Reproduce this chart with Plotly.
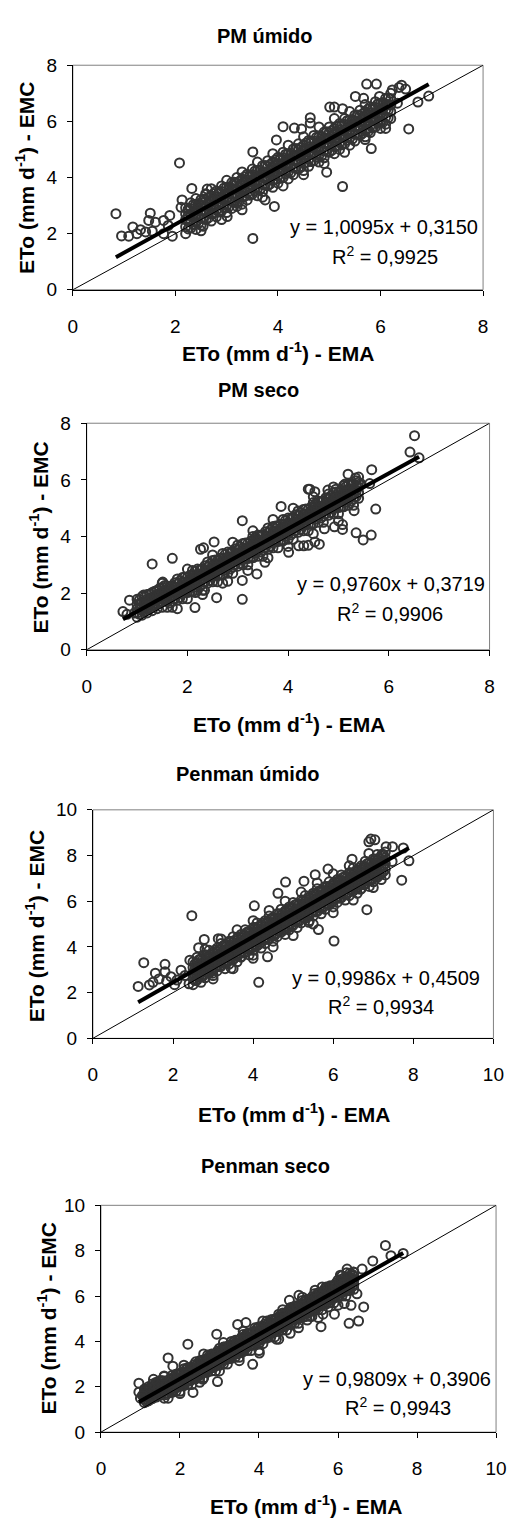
import plotly.graph_objects as go

W, H = 518, 1526
FONT = "Liberation Sans, Arial, sans-serif"

# ---------------- data ----------------
TITLES = ["PM úmido", "PM seco", "Penman úmido", "Penman seco"]
AXIS_MAX = [8, 8, 10, 10]
TICKS = [[0, 2, 4, 6, 8], [0, 2, 4, 6, 8], [0, 2, 4, 6, 8, 10], [0, 2, 4, 6, 8, 10]]
SLOPES = [1.0095, 0.9760, 0.9986, 0.9809]
INTERCEPTS = [0.3150, 0.3719, 0.4509, 0.3906]
R2 = [0.9925, 0.9906, 0.9934, 0.9943]

# Panel 1 - PM úmido : dense columns (EMA value, EMC values) + scattered points
PMU_COL_EMA = [2.2, 2.3, 2.4, 2.5, 2.6, 2.7, 2.8, 2.9, 3.0, 3.1, 3.2, 3.3, 3.4, 3.5, 3.6, 3.7, 3.8, 3.9, 4.0,
               4.1, 4.2, 4.3, 4.4, 4.5, 4.6, 4.7, 4.8, 4.9, 5.0, 5.1, 5.2, 5.3, 5.4, 5.5, 5.6, 5.7, 5.8,
               5.9, 6.0, 6.1, 6.2]
PMU_COL_EMC = [
    [2.00, 2.25, 2.50, 2.70, 2.92], [2.20, 2.45, 2.68, 2.90, 3.10], [2.15, 2.40, 2.62, 2.85, 3.05],
    [2.30, 2.55, 2.80, 3.00, 3.22], [2.50, 2.75, 2.98, 3.20, 3.40], [2.45, 2.70, 2.92, 3.15, 3.35],
    [2.60, 2.85, 3.10, 3.30, 3.52], [2.80, 3.05, 3.28, 3.50, 3.70], [2.75, 3.00, 3.22, 3.45, 3.65],
    [2.90, 3.15, 3.40, 3.60, 3.82], [3.10, 3.35, 3.58, 3.80, 4.00], [3.05, 3.30, 3.52, 3.75, 3.95],
    [3.20, 3.45, 3.70, 3.90, 4.12], [3.40, 3.65, 3.88, 4.10, 4.30], [3.35, 3.60, 3.82, 4.05, 4.25],
    [3.50, 3.75, 4.00, 4.20, 4.42], [3.70, 3.95, 4.18, 4.40, 4.60], [3.65, 3.90, 4.12, 4.35, 4.55],
    [3.80, 4.05, 4.30, 4.50, 4.72], [4.00, 4.25, 4.48, 4.70, 4.90], [3.95, 4.20, 4.42, 4.65, 4.85],
    [4.10, 4.35, 4.60, 4.80, 5.02], [4.30, 4.55, 4.78, 5.00, 5.20], [4.25, 4.50, 4.72, 4.95, 5.15],
    [4.40, 4.65, 4.90, 5.10, 5.32], [4.60, 4.85, 5.08, 5.30, 5.50], [4.55, 4.80, 5.02, 5.25, 5.45],
    [4.70, 4.95, 5.20, 5.40, 5.62], [4.90, 5.15, 5.38, 5.60, 5.80], [4.85, 5.10, 5.32, 5.55, 5.75],
    [5.00, 5.25, 5.50, 5.70, 5.92], [5.20, 5.45, 5.68, 5.90, 6.10], [5.15, 5.40, 5.62, 5.85, 6.05],
    [5.30, 5.55, 5.80, 6.00, 6.22], [5.50, 5.75, 5.98, 6.20, 6.40], [5.45, 5.70, 5.92, 6.15, 6.35],
    [5.60, 5.85, 6.10, 6.30, 6.52], [5.80, 6.05, 6.28, 6.50, 6.70], [5.75, 6.00, 6.22, 6.45, 6.65],
    [5.90, 6.15, 6.40, 6.60, 6.82], [6.10, 6.35, 6.58, 6.80, 7.00]]
PMU_MID_EMA = [2.25, 2.35, 2.45, 2.55, 2.65, 2.75, 2.85, 2.95, 3.05, 3.15, 3.25, 3.35, 3.45, 3.55, 3.65,
               3.75, 3.85, 3.95, 4.05, 4.15, 4.25, 4.35, 4.45, 4.55, 4.65, 4.75, 4.85, 4.95, 5.05, 5.15,
               5.25, 5.35, 5.45, 5.55, 5.65, 5.75, 5.85, 5.95, 6.05, 6.15]
PMU_MID_EMC = [
    [2.17, 2.43, 2.65, 2.87], [2.33, 2.60, 2.80, 3.03], [2.37, 2.63, 2.85, 3.07], [2.53, 2.80, 3.00, 3.23],
    [2.57, 2.83, 3.05, 3.27], [2.73, 3.00, 3.20, 3.43], [2.77, 3.03, 3.25, 3.47], [2.93, 3.20, 3.40, 3.63],
    [2.97, 3.23, 3.45, 3.67], [3.13, 3.40, 3.60, 3.83], [3.17, 3.43, 3.65, 3.87], [3.33, 3.60, 3.80, 4.03],
    [3.37, 3.63, 3.85, 4.07], [3.53, 3.80, 4.00, 4.23], [3.57, 3.83, 4.05, 4.27], [3.73, 4.00, 4.20, 4.43],
    [3.77, 4.03, 4.25, 4.47], [3.93, 4.20, 4.40, 4.63], [3.97, 4.23, 4.45, 4.67], [4.13, 4.40, 4.60, 4.83],
    [4.17, 4.43, 4.65, 4.87], [4.33, 4.60, 4.80, 5.03], [4.37, 4.63, 4.85, 5.07], [4.53, 4.80, 5.00, 5.23],
    [4.57, 4.83, 5.05, 5.27], [4.73, 5.00, 5.20, 5.43], [4.77, 5.03, 5.25, 5.47], [4.93, 5.20, 5.40, 5.63],
    [4.97, 5.23, 5.45, 5.67], [5.13, 5.40, 5.60, 5.83], [5.17, 5.43, 5.65, 5.87], [5.33, 5.60, 5.80, 6.03],
    [5.37, 5.63, 5.85, 6.07], [5.53, 5.80, 6.00, 6.23], [5.57, 5.83, 6.05, 6.27], [5.73, 6.00, 6.20, 6.43],
    [5.77, 6.03, 6.25, 6.47], [5.93, 6.20, 6.40, 6.63], [5.97, 6.23, 6.45, 6.67], [6.13, 6.40, 6.60, 6.83]]
PMU_OUT_EMA = [0.84, 0.95, 1.09, 1.17, 1.25, 1.32, 1.42, 1.51, 1.48, 1.61, 1.55, 1.77, 1.77, 1.89, 1.94,
               1.86, 2.08, 2.32, 2.13, 2.11, 2.54, 2.62, 2.59, 3.01, 3.20, 3.51, 3.51, 3.97, 4.10, 3.93,
               3.75, 4.63, 4.46, 4.95, 5.26, 5.82, 6.55, 6.73, 6.94, 5.73, 5.92, 6.36, 6.41, 6.49, 6.23,
               6.33, 5.98, 5.51, 5.67, 5.99, 5.01, 5.10, 5.26, 4.63, 4.32, 5.76]
PMU_OUT_EMC = [2.71, 1.92, 1.91, 2.24, 2.00, 2.14, 2.06, 2.73, 2.47, 2.41, 2.09, 2.47, 2.00, 2.65, 1.91,
               2.29, 4.52, 3.61, 3.20, 2.94, 2.26, 3.59, 3.42, 2.61, 2.97, 1.83, 4.91, 5.34, 5.81, 2.97,
               3.20, 6.13, 5.73, 4.19, 3.68, 5.03, 5.73, 6.69, 6.90, 7.33, 7.33, 7.21, 7.29, 7.15, 7.12,
               6.65, 6.89, 6.89, 6.82, 5.95, 6.51, 6.51, 6.45, 5.94, 5.76, 5.64]
PMU_EDGE_EMA = [2.4, 2.7, 3.0, 3.3, 3.6, 3.9, 4.2, 4.5, 4.8, 5.1, 5.4, 5.7, 2.5, 2.9, 3.3, 3.7, 4.1, 4.5,
                4.9, 5.3, 5.7, 6.1]
PMU_EDGE_EMC = [3.25, 3.60, 3.90, 4.20, 4.55, 4.85, 5.15, 5.45, 5.80, 6.10, 6.35, 6.60, 2.10, 2.50, 2.85,
                3.30, 3.70, 4.10, 4.50, 4.90, 5.35, 5.75]

# Panel 2 - PM seco
PMS_COL_EMA = [1.0, 1.1, 1.2, 1.3, 1.4, 1.5, 1.6, 1.7, 1.8, 1.9, 2.0, 2.1, 2.2, 2.3, 2.4, 2.5, 2.6, 2.7, 2.8,
               2.9, 3.0, 3.1, 3.2, 3.3, 3.4, 3.5, 3.6, 3.7, 3.8, 3.9, 4.0, 4.1, 4.2, 4.3, 4.4, 4.5, 4.6,
               4.7, 4.8, 4.9, 5.0, 5.1, 5.2, 5.3, 5.4]
PMS_COL_EMC = [
    [1.15, 1.30, 1.45, 1.60, 1.78], [1.22, 1.38, 1.52, 1.68, 1.88], [1.30, 1.45, 1.62, 1.78, 1.95],
    [1.38, 1.55, 1.70, 1.86, 2.02], [1.45, 1.62, 1.80, 1.95, 2.10], [1.50, 1.70, 1.88, 2.02, 2.20],
    [1.50, 1.70, 1.90, 2.08, 2.25], [1.50, 1.72, 1.90, 2.08, 2.26], [1.75, 1.95, 2.15, 2.32, 2.50],
    [1.80, 2.00, 2.20, 2.38, 2.55], [1.80, 2.02, 2.20, 2.38, 2.56], [2.05, 2.25, 2.45, 2.62, 2.80],
    [2.10, 2.30, 2.50, 2.68, 2.85], [2.10, 2.32, 2.50, 2.68, 2.86], [2.35, 2.55, 2.75, 2.92, 3.10],
    [2.40, 2.60, 2.80, 2.98, 3.15], [2.40, 2.62, 2.80, 2.98, 3.16], [2.65, 2.85, 3.05, 3.22, 3.40],
    [2.70, 2.90, 3.10, 3.28, 3.45], [2.70, 2.92, 3.10, 3.28, 3.46], [2.95, 3.15, 3.35, 3.52, 3.70],
    [3.00, 3.20, 3.40, 3.58, 3.75], [3.00, 3.22, 3.40, 3.58, 3.76], [3.25, 3.45, 3.65, 3.82, 4.00],
    [3.30, 3.50, 3.70, 3.88, 4.05], [3.30, 3.52, 3.70, 3.88, 4.06], [3.55, 3.75, 3.95, 4.12, 4.30],
    [3.60, 3.80, 4.00, 4.18, 4.35], [3.60, 3.82, 4.00, 4.18, 4.36], [3.85, 4.05, 4.25, 4.42, 4.60],
    [3.90, 4.10, 4.30, 4.48, 4.65], [3.90, 4.12, 4.30, 4.48, 4.66], [4.15, 4.35, 4.55, 4.72, 4.90],
    [4.20, 4.40, 4.60, 4.78, 4.95], [4.20, 4.42, 4.60, 4.78, 4.96], [4.45, 4.65, 4.85, 5.02, 5.20],
    [4.50, 4.70, 4.90, 5.08, 5.25], [4.50, 4.72, 4.90, 5.08, 5.26], [4.75, 4.95, 5.15, 5.32, 5.50],
    [4.80, 5.00, 5.20, 5.38, 5.55], [4.80, 5.02, 5.20, 5.38, 5.56], [5.05, 5.25, 5.45, 5.62, 5.80],
    [5.10, 5.30, 5.50, 5.68, 5.85], [5.10, 5.32, 5.50, 5.68, 5.86], [5.35, 5.55, 5.75, 5.92, 6.10]]
PMS_MID_EMA = [1.05, 1.15, 1.25, 1.35, 1.45, 1.55, 1.65, 1.75, 1.85, 1.95, 2.05, 2.15, 2.25, 2.35, 2.45,
               2.55, 2.65, 2.75, 2.85, 2.95, 3.05, 3.15, 3.25, 3.35, 3.45, 3.55, 3.65, 3.75, 3.85, 3.95,
               4.05, 4.15, 4.25, 4.35, 4.45, 4.55, 4.65, 4.75, 4.85, 4.95, 5.05, 5.15, 5.25, 5.35]
PMS_MID_EMC = [
    [1.25, 1.43, 1.60, 1.77], [1.35, 1.53, 1.70, 1.87], [1.45, 1.63, 1.80, 1.97], [1.55, 1.73, 1.90, 2.07],
    [1.65, 1.83, 2.00, 2.17], [1.75, 1.93, 2.10, 2.27], [1.65, 1.85, 2.05, 2.23], [1.81, 2.00, 2.19, 2.37],
    [1.85, 2.05, 2.25, 2.43], [2.01, 2.20, 2.39, 2.57], [2.05, 2.25, 2.45, 2.63], [2.21, 2.40, 2.59, 2.77],
    [2.25, 2.45, 2.65, 2.83], [2.41, 2.60, 2.79, 2.97], [2.45, 2.65, 2.85, 3.03], [2.61, 2.80, 2.99, 3.17],
    [2.65, 2.85, 3.05, 3.23], [2.81, 3.00, 3.19, 3.37], [2.85, 3.05, 3.25, 3.43], [3.01, 3.20, 3.39, 3.57],
    [3.05, 3.25, 3.45, 3.63], [3.21, 3.40, 3.59, 3.77], [3.25, 3.45, 3.65, 3.83], [3.41, 3.60, 3.79, 3.97],
    [3.45, 3.65, 3.85, 4.03], [3.61, 3.80, 3.99, 4.17], [3.65, 3.85, 4.05, 4.23], [3.81, 4.00, 4.19, 4.37],
    [3.85, 4.05, 4.25, 4.43], [4.01, 4.20, 4.39, 4.57], [4.05, 4.25, 4.45, 4.63], [4.21, 4.40, 4.59, 4.77],
    [4.25, 4.45, 4.65, 4.83], [4.41, 4.60, 4.79, 4.97], [4.45, 4.65, 4.85, 5.03], [4.61, 4.80, 4.99, 5.17],
    [4.65, 4.85, 5.05, 5.23], [4.81, 5.00, 5.19, 5.37], [4.85, 5.05, 5.25, 5.43], [5.01, 5.20, 5.39, 5.57],
    [5.05, 5.25, 5.45, 5.63], [5.21, 5.40, 5.59, 5.77], [5.25, 5.45, 5.65, 5.83], [5.41, 5.60, 5.79, 5.97]]
PMS_OUT_EMA = [0.72, 0.85, 1.13, 1.30, 1.51, 1.70, 2.15, 2.58, 3.09, 3.09, 2.53, 2.26, 2.32, 2.16, 2.34,
               2.80, 3.09, 3.38, 3.54, 3.86, 4.01, 4.40, 4.53, 4.21, 4.31, 4.40, 4.53, 4.62, 4.72, 4.92,
               5.08, 5.08, 5.35, 5.49, 5.65, 5.31, 5.74, 5.66, 5.19, 5.34, 5.44, 4.43, 4.79, 4.95, 5.13,
               6.51, 6.42, 6.60, 5.62, 0.80, 0.95]
PMS_OUT_EMC = [1.35, 1.75, 1.93, 3.03, 2.39, 3.23, 1.49, 1.84, 1.78, 4.56, 3.81, 3.55, 3.60, 2.02, 2.10,
               2.42, 2.45, 2.68, 3.09, 5.06, 3.44, 5.67, 5.58, 3.67, 3.67, 3.69, 3.81, 3.73, 4.27, 4.34,
               4.25, 4.42, 4.13, 3.88, 4.05, 4.91, 4.97, 6.36, 6.20, 6.07, 5.87, 5.67, 5.64, 5.67, 5.85,
               7.56, 6.98, 6.78, 5.87, 1.25, 1.30]
PMS_EDGE_EMA = [1.5, 2.0, 2.5, 2.9, 3.3, 3.7, 4.1, 4.5, 4.9, 1.8, 2.3, 2.7, 3.2, 3.6, 4.0, 4.5, 5.0]
PMS_EDGE_EMC = [2.35, 2.85, 3.35, 3.80, 4.20, 4.60, 5.00, 5.40, 5.75, 1.45, 1.95, 2.35, 2.80, 3.25, 3.65,
                4.10, 4.55]

# Panel 3 - Penman úmido
PEU_COL_EMA = [2.5, 2.6, 2.7, 2.8, 2.9, 3.0, 3.1, 3.2, 3.3, 3.4, 3.5, 3.6, 3.7, 3.8, 3.9, 4.0, 4.1, 4.2, 4.3,
               4.4, 4.5, 4.6, 4.7, 4.8, 4.9, 5.0, 5.1, 5.2, 5.3, 5.4, 5.5, 5.6, 5.7, 5.8, 5.9, 6.0, 6.1,
               6.2, 6.3, 6.4, 6.5, 6.6, 6.7, 6.8, 6.9, 7.0, 7.1, 7.2, 7.3]
PEU_COL_EMC = [
    [2.35, 2.60, 2.85, 3.10, 3.35], [2.55, 2.80, 3.05, 3.30, 3.55], [2.45, 2.70, 2.98, 3.22, 3.48],
    [2.65, 2.90, 3.15, 3.40, 3.65], [2.85, 3.10, 3.35, 3.60, 3.85], [2.75, 3.00, 3.28, 3.52, 3.78],
    [2.95, 3.20, 3.45, 3.70, 3.95], [3.15, 3.40, 3.65, 3.90, 4.15], [3.05, 3.30, 3.58, 3.82, 4.08],
    [3.25, 3.50, 3.75, 4.00, 4.25], [3.45, 3.70, 3.95, 4.20, 4.45], [3.35, 3.60, 3.88, 4.12, 4.38],
    [3.55, 3.80, 4.05, 4.30, 4.55], [3.75, 4.00, 4.25, 4.50, 4.75], [3.65, 3.90, 4.18, 4.42, 4.68],
    [3.85, 4.10, 4.35, 4.60, 4.85], [4.05, 4.30, 4.55, 4.80, 5.05], [3.95, 4.20, 4.48, 4.72, 4.98],
    [4.15, 4.40, 4.65, 4.90, 5.15], [4.35, 4.60, 4.85, 5.10, 5.35], [4.25, 4.50, 4.78, 5.02, 5.28],
    [4.45, 4.70, 4.95, 5.20, 5.45], [4.65, 4.90, 5.15, 5.40, 5.65], [4.55, 4.80, 5.08, 5.32, 5.58],
    [4.75, 5.00, 5.25, 5.50, 5.75], [4.95, 5.20, 5.45, 5.70, 5.95], [4.85, 5.10, 5.38, 5.62, 5.88],
    [5.05, 5.30, 5.55, 5.80, 6.05], [5.25, 5.50, 5.75, 6.00, 6.25], [5.15, 5.40, 5.68, 5.92, 6.18],
    [5.35, 5.60, 5.85, 6.10, 6.35], [5.55, 5.80, 6.05, 6.30, 6.55], [5.45, 5.70, 5.98, 6.22, 6.48],
    [5.65, 5.90, 6.15, 6.40, 6.65], [5.85, 6.10, 6.35, 6.60, 6.85], [5.75, 6.00, 6.28, 6.52, 6.78],
    [5.95, 6.20, 6.45, 6.70, 6.95], [6.15, 6.40, 6.65, 6.90, 7.15], [6.05, 6.30, 6.58, 6.82, 7.08],
    [6.25, 6.50, 6.75, 7.00, 7.25], [6.45, 6.70, 6.95, 7.20, 7.45], [6.35, 6.60, 6.88, 7.12, 7.38],
    [6.55, 6.80, 7.05, 7.30, 7.55], [6.75, 7.00, 7.25, 7.50, 7.75], [6.65, 6.90, 7.18, 7.42, 7.68],
    [6.85, 7.10, 7.35, 7.60, 7.85], [7.05, 7.30, 7.55, 7.80, 8.05], [6.95, 7.20, 7.48, 7.72, 7.98],
    [7.15, 7.40, 7.65, 7.90, 8.15]]
PEU_MID_EMA = [2.55, 2.65, 2.75, 2.85, 2.95, 3.05, 3.15, 3.25, 3.35, 3.45, 3.55, 3.65, 3.75, 3.85, 3.95,
               4.05, 4.15, 4.25, 4.35, 4.45, 4.55, 4.65, 4.75, 4.85, 4.95, 5.05, 5.15, 5.25, 5.35, 5.45,
               5.55, 5.65, 5.75, 5.85, 5.95, 6.05, 6.15, 6.25, 6.35, 6.45, 6.55, 6.65, 6.75, 6.85, 6.95,
               7.05, 7.15, 7.25]
PEU_MID_EMC = [
    [2.53, 2.77, 3.03, 3.27], [2.70, 2.95, 3.20, 3.45], [2.73, 2.97, 3.23, 3.47], [2.90, 3.15, 3.40, 3.65],
    [2.93, 3.17, 3.43, 3.67], [3.10, 3.35, 3.60, 3.85], [3.13, 3.37, 3.63, 3.87], [3.30, 3.55, 3.80, 4.05],
    [3.33, 3.57, 3.83, 4.07], [3.50, 3.75, 4.00, 4.25], [3.53, 3.77, 4.03, 4.27], [3.70, 3.95, 4.20, 4.45],
    [3.73, 3.97, 4.23, 4.47], [3.90, 4.15, 4.40, 4.65], [3.93, 4.17, 4.43, 4.67], [4.10, 4.35, 4.60, 4.85],
    [4.13, 4.37, 4.63, 4.87], [4.30, 4.55, 4.80, 5.05], [4.33, 4.57, 4.83, 5.07], [4.50, 4.75, 5.00, 5.25],
    [4.53, 4.77, 5.03, 5.27], [4.70, 4.95, 5.20, 5.45], [4.73, 4.97, 5.23, 5.47], [4.90, 5.15, 5.40, 5.65],
    [4.93, 5.17, 5.43, 5.67], [5.10, 5.35, 5.60, 5.85], [5.13, 5.37, 5.63, 5.87], [5.30, 5.55, 5.80, 6.05],
    [5.33, 5.57, 5.83, 6.07], [5.50, 5.75, 6.00, 6.25], [5.53, 5.77, 6.03, 6.27], [5.70, 5.95, 6.20, 6.45],
    [5.73, 5.97, 6.23, 6.47], [5.90, 6.15, 6.40, 6.65], [5.93, 6.17, 6.43, 6.67], [6.10, 6.35, 6.60, 6.85],
    [6.13, 6.37, 6.63, 6.87], [6.30, 6.55, 6.80, 7.05], [6.33, 6.57, 6.83, 7.07], [6.50, 6.75, 7.00, 7.25],
    [6.53, 6.77, 7.03, 7.27], [6.70, 6.95, 7.20, 7.45], [6.73, 6.97, 7.23, 7.47], [6.90, 7.15, 7.40, 7.65],
    [6.93, 7.17, 7.43, 7.67], [7.10, 7.35, 7.60, 7.85], [7.13, 7.37, 7.63, 7.87], [7.30, 7.55, 7.80, 8.05]]
PEU_OUT_EMA = [1.13, 1.27, 1.41, 1.56, 1.80, 1.80, 1.84, 2.04, 2.20, 2.42, 2.47, 2.64, 2.78, 2.40, 3.13,
               4.14, 4.03, 4.36, 4.00, 4.81, 4.62, 5.63, 6.02, 6.84, 7.71, 7.89, 6.94, 6.89, 7.04, 7.32,
               7.48, 7.75, 7.47, 7.22, 6.89, 6.47, 5.87, 5.55, 5.83, 5.39, 6.68, 5.27, 3.69, 3.45, 2.99,
               1.50, 1.65, 1.95, 2.10, 2.30]
PEU_OUT_EMC = [2.27, 3.31, 2.34, 2.85, 3.24, 2.92, 2.50, 2.35, 2.98, 3.42, 5.37, 3.97, 4.33, 2.39, 4.36,
               2.45, 5.80, 3.57, 3.64, 6.84, 6.35, 4.76, 4.26, 5.63, 6.92, 7.77, 8.72, 8.60, 8.69, 8.39,
               8.39, 8.33, 7.74, 8.06, 8.09, 7.84, 7.41, 7.16, 5.87, 5.08, 6.52, 6.88, 3.57, 3.07, 2.85,
               2.45, 2.60, 2.70, 2.55, 2.75]
PEU_EDGE_EMA = [2.8, 3.2, 3.6, 4.0, 4.4, 4.8, 5.2, 5.6, 6.0, 6.4, 3.0, 3.5, 4.0, 4.5, 5.0, 5.5, 6.0, 6.5,
                7.0]
PEU_EDGE_EMC = [3.90, 4.35, 4.75, 5.15, 5.60, 6.00, 6.40, 6.80, 7.20, 7.55, 2.60, 3.05, 3.50, 4.00, 4.50,
                5.00, 5.50, 6.05, 6.60]

# Panel 4 - Penman seco
PES_COL_EMA = [1.1, 1.2, 1.3, 1.4, 1.5, 1.6, 1.7, 1.8, 1.9, 2.0, 2.1, 2.2, 2.3, 2.4, 2.5, 2.6, 2.7, 2.8, 2.9,
               3.0, 3.1, 3.2, 3.3, 3.4, 3.5, 3.6, 3.7, 3.8, 3.9, 4.0, 4.1, 4.2, 4.3, 4.4, 4.5, 4.6, 4.7,
               4.8, 4.9, 5.0, 5.1, 5.2, 5.3, 5.4, 5.5, 5.6, 5.7, 5.8, 5.9, 6.0, 6.1, 6.2, 6.3, 6.4]
PES_COL_EMC = [
    [1.30, 1.45, 1.60, 1.75, 1.90], [1.38, 1.55, 1.70, 1.85, 2.00], [1.48, 1.62, 1.78, 1.95, 2.12],
    [1.55, 1.72, 1.88, 2.02, 2.20], [1.62, 1.80, 1.95, 2.12, 2.28], [1.50, 1.70, 1.90, 2.08, 2.25],
    [1.50, 1.72, 1.90, 2.08, 2.26], [1.75, 1.95, 2.15, 2.32, 2.50], [1.80, 2.00, 2.20, 2.38, 2.55],
    [1.80, 2.02, 2.20, 2.38, 2.56], [2.05, 2.25, 2.45, 2.62, 2.80], [2.10, 2.30, 2.50, 2.68, 2.85],
    [2.10, 2.32, 2.50, 2.68, 2.86], [2.35, 2.55, 2.75, 2.92, 3.10], [2.40, 2.60, 2.80, 2.98, 3.15],
    [2.40, 2.62, 2.80, 2.98, 3.16], [2.65, 2.85, 3.05, 3.22, 3.40], [2.70, 2.90, 3.10, 3.28, 3.45],
    [2.70, 2.92, 3.10, 3.28, 3.46], [2.95, 3.15, 3.35, 3.52, 3.70], [3.00, 3.20, 3.40, 3.58, 3.75],
    [3.00, 3.22, 3.40, 3.58, 3.76], [3.25, 3.45, 3.65, 3.82, 4.00], [3.30, 3.50, 3.70, 3.88, 4.05],
    [3.30, 3.52, 3.70, 3.88, 4.06], [3.55, 3.75, 3.95, 4.12, 4.30], [3.60, 3.80, 4.00, 4.18, 4.35],
    [3.60, 3.82, 4.00, 4.18, 4.36], [3.85, 4.05, 4.25, 4.42, 4.60], [3.90, 4.10, 4.30, 4.48, 4.65],
    [3.90, 4.12, 4.30, 4.48, 4.66], [4.15, 4.35, 4.55, 4.72, 4.90], [4.20, 4.40, 4.60, 4.78, 4.95],
    [4.20, 4.42, 4.60, 4.78, 4.96], [4.45, 4.65, 4.85, 5.02, 5.20], [4.50, 4.70, 4.90, 5.08, 5.25],
    [4.50, 4.72, 4.90, 5.08, 5.26], [4.75, 4.95, 5.15, 5.32, 5.50], [4.80, 5.00, 5.20, 5.38, 5.55],
    [4.80, 5.02, 5.20, 5.38, 5.56], [5.05, 5.25, 5.45, 5.62, 5.80], [5.10, 5.30, 5.50, 5.68, 5.85],
    [5.10, 5.32, 5.50, 5.68, 5.86], [5.35, 5.55, 5.75, 5.92, 6.10], [5.40, 5.60, 5.80, 5.98, 6.15],
    [5.40, 5.62, 5.80, 5.98, 6.16], [5.65, 5.85, 6.05, 6.22, 6.40], [5.70, 5.90, 6.10, 6.28, 6.45],
    [5.70, 5.92, 6.10, 6.28, 6.46], [5.95, 6.15, 6.35, 6.52, 6.70], [6.00, 6.20, 6.40, 6.58, 6.75],
    [6.00, 6.22, 6.40, 6.58, 6.76], [6.25, 6.45, 6.65, 6.82, 7.00], [6.30, 6.50, 6.70, 6.88, 7.05]]
PES_MID_EMA = [1.15, 1.25, 1.35, 1.45, 1.55, 1.65, 1.75, 1.85, 1.95, 2.05, 2.15, 2.25, 2.35, 2.45, 2.55,
               2.65, 2.75, 2.85, 2.95, 3.05, 3.15, 3.25, 3.35, 3.45, 3.55, 3.65, 3.75, 3.85, 3.95, 4.05,
               4.15, 4.25, 4.35, 4.45, 4.55, 4.65, 4.75, 4.85, 4.95, 5.05, 5.15, 5.25, 5.35, 5.45, 5.55,
               5.65, 5.75, 5.85, 5.95, 6.05, 6.15, 6.25, 6.35]
PES_MID_EMC = [
    [1.35, 1.53, 1.70, 1.87], [1.45, 1.63, 1.80, 1.97], [1.55, 1.73, 1.90, 2.07], [1.65, 1.83, 2.00, 2.17],
    [1.75, 1.93, 2.10, 2.27], [1.65, 1.85, 2.05, 2.23], [1.81, 2.00, 2.19, 2.37], [1.85, 2.05, 2.25, 2.43],
    [2.01, 2.20, 2.39, 2.57], [2.05, 2.25, 2.45, 2.63], [2.21, 2.40, 2.59, 2.77], [2.25, 2.45, 2.65, 2.83],
    [2.41, 2.60, 2.79, 2.97], [2.45, 2.65, 2.85, 3.03], [2.61, 2.80, 2.99, 3.17], [2.65, 2.85, 3.05, 3.23],
    [2.81, 3.00, 3.19, 3.37], [2.85, 3.05, 3.25, 3.43], [3.01, 3.20, 3.39, 3.57], [3.05, 3.25, 3.45, 3.63],
    [3.21, 3.40, 3.59, 3.77], [3.25, 3.45, 3.65, 3.83], [3.41, 3.60, 3.79, 3.97], [3.45, 3.65, 3.85, 4.03],
    [3.61, 3.80, 3.99, 4.17], [3.65, 3.85, 4.05, 4.23], [3.81, 4.00, 4.19, 4.37], [3.85, 4.05, 4.25, 4.43],
    [4.01, 4.20, 4.39, 4.57], [4.05, 4.25, 4.45, 4.63], [4.21, 4.40, 4.59, 4.77], [4.25, 4.45, 4.65, 4.83],
    [4.41, 4.60, 4.79, 4.97], [4.45, 4.65, 4.85, 5.03], [4.61, 4.80, 4.99, 5.17], [4.65, 4.85, 5.05, 5.23],
    [4.81, 5.00, 5.19, 5.37], [4.85, 5.05, 5.25, 5.43], [5.01, 5.20, 5.39, 5.57], [5.05, 5.25, 5.45, 5.63],
    [5.21, 5.40, 5.59, 5.77], [5.25, 5.45, 5.65, 5.83], [5.41, 5.60, 5.79, 5.97], [5.45, 5.65, 5.85, 6.03],
    [5.61, 5.80, 5.99, 6.17], [5.65, 5.85, 6.05, 6.23], [5.81, 6.00, 6.19, 6.37], [5.85, 6.05, 6.25, 6.43],
    [6.01, 6.20, 6.39, 6.57], [6.05, 6.25, 6.45, 6.63], [6.21, 6.40, 6.59, 6.77], [6.25, 6.45, 6.65, 6.83],
    [6.41, 6.60, 6.79, 6.97]]
PES_OUT_EMA = [0.96, 0.96, 1.33, 1.70, 1.60, 1.82, 2.20, 1.82, 2.33, 2.58, 2.93, 2.95, 3.46, 3.67, 3.84,
               4.01, 4.44, 4.79, 4.77, 5.57, 5.22, 5.34, 5.62, 5.75, 5.91, 6.16, 6.28, 6.33, 6.52, 6.48,
               6.65, 6.61, 6.88, 7.20, 7.34, 7.65, 6.23, 6.22, 6.39, 6.06, 5.67, 5.42, 5.01, 1.00, 1.05]
PES_OUT_EMC = [2.16, 1.76, 2.33, 3.27, 2.48, 2.91, 3.88, 1.80, 1.75, 2.33, 4.32, 2.23, 4.75, 4.83, 2.99,
               3.49, 4.10, 4.36, 5.81, 4.65, 4.94, 5.10, 5.20, 5.52, 5.20, 5.67, 4.80, 5.59, 4.90, 6.10,
               5.52, 7.19, 7.55, 8.23, 7.78, 7.88, 7.19, 7.03, 7.06, 6.92, 6.33, 6.26, 6.03, 1.50, 1.62]
PES_EDGE_EMA = [1.6, 2.1, 2.6, 3.1, 3.6, 4.1, 4.6, 5.1, 5.6, 6.1, 2.0, 2.5, 3.0, 3.5, 4.0, 4.5, 5.0, 5.5,
                6.0]
PES_EDGE_EMC = [2.45, 2.95, 3.45, 3.95, 4.45, 4.90, 5.40, 5.95, 6.40, 6.90, 1.70, 2.20, 2.70, 3.15, 3.60,
                4.10, 4.60, 5.05, 5.60]

PANEL_COLUMNS = [
    [(PMU_COL_EMA, PMU_COL_EMC), (PMU_MID_EMA, PMU_MID_EMC)],
    [(PMS_COL_EMA, PMS_COL_EMC), (PMS_MID_EMA, PMS_MID_EMC)],
    [(PEU_COL_EMA, PEU_COL_EMC), (PEU_MID_EMA, PEU_MID_EMC)],
    [(PES_COL_EMA, PES_COL_EMC), (PES_MID_EMA, PES_MID_EMC)],
]
PANEL_POINTS = [
    [(PMU_OUT_EMA, PMU_OUT_EMC), (PMU_EDGE_EMA, PMU_EDGE_EMC)],
    [(PMS_OUT_EMA, PMS_OUT_EMC), (PMS_EDGE_EMA, PMS_EDGE_EMC)],
    [(PEU_OUT_EMA, PEU_OUT_EMC), (PEU_EDGE_EMA, PEU_EDGE_EMC)],
    [(PES_OUT_EMA, PES_OUT_EMC), (PES_EDGE_EMA, PES_EDGE_EMC)],
]

# ---------------- layout geometry (pixels) ----------------
# plot area: left, right, top, bottom
PLOT_BOX = [(70, 493.3, 56, 283.7), (84.3, 500, 419, 648.7),
            (90.7, 504, 811, 1042.7), (99, 506.7, 1212, 1442)]
TITLE_POS = [(268, 26), (262, 385), (250, 775), (269, 1172)]
XTITLE_POS = [(282, 347), (293, 723), (298, 1118), (311, 1516)]
YTITLE_POS = [(20, 170), (35, 535), (31, 929), (43, 1327)]
EQ_POS = [(391, 220), (398, 582), (393, 982), (405, 1388)]
R2_POS = [(392, 249), (397, 611), (388, 1009), (406, 1416)]


def px(xp):
    return xp / W


def py(yp):
    return 1 - yp / H


def fmt(v):
    return f"{v:.4f}".replace(".", ",")


fig = go.Figure()
annotations = []
shapes = []

for i in range(4):
    n = i + 1
    xa = "x" if n == 1 else f"x{n}"
    ya = "y" if n == 1 else f"y{n}"
    xs, ys = [], []
    for col_x, col_y in PANEL_COLUMNS[i]:
        for cx, cys in zip(col_x, col_y):
            for cy in cys:
                xs.append(cx)
                ys.append(cy)
    for px_list, py_list in PANEL_POINTS[i]:
        for ox, oy in zip(px_list, py_list):
            xs.append(ox)
            ys.append(oy)

    fig.add_trace(go.Scatter(
        x=xs, y=ys, mode="markers", xaxis=xa, yaxis=ya, showlegend=False,
        marker=dict(symbol="circle-open", size=9, color="#333333", line=dict(width=2)),
    ))
    m = AXIS_MAX[i]
    fig.add_trace(go.Scatter(x=[0, m], y=[0, m], mode="lines", xaxis=xa, yaxis=ya,
                             showlegend=False, line=dict(color="black", width=1)))
    x0, x1 = min(xs), max(xs)
    a, b = SLOPES[i], INTERCEPTS[i]
    fig.add_trace(go.Scatter(x=[x0, x1], y=[a * x0 + b, a * x1 + b], mode="lines", xaxis=xa,
                             yaxis=ya, showlegend=False, line=dict(color="black", width=4)))

    l, r, t, btm = PLOT_BOX[i]
    axis_common = dict(
        range=[0, m], tickvals=TICKS[i], showline=True, linecolor="black", linewidth=1,
        ticks="outside", ticklen=5, tickcolor="black", tickwidth=1, showgrid=False,
        zeroline=False, tickfont=dict(family=FONT, size=19, color="black"), fixedrange=True,
    )
    fig.update_layout(**{
        ("xaxis" if n == 1 else f"xaxis{n}"): dict(domain=[px(l), px(r)], anchor=ya,
                                                   ticklabelstandoff=14, **axis_common),
        ("yaxis" if n == 1 else f"yaxis{n}"): dict(domain=[py(btm), py(t)], anchor=xa,
                                                   ticklabelstandoff=6, **axis_common),
    })
    shapes.append(dict(type="rect", xref=f"{xa} domain", yref=f"{ya} domain", x0=0, x1=1, y0=0, y1=1,
                       line=dict(color="#808080", width=1), layer="below"))

    annotations.append(dict(text=f"<b>{TITLES[i]}</b>", x=px(TITLE_POS[i][0]), y=py(TITLE_POS[i][1]),
                            xref="paper", yref="paper", showarrow=False, xanchor="center",
                            yanchor="middle", font=dict(family=FONT, size=20, color="black")))
    annotations.append(dict(text="<b>ETo (mm d<sup>-1</sup>) - EMA</b>", x=px(XTITLE_POS[i][0]),
                            y=py(XTITLE_POS[i][1]), xref="paper", yref="paper", showarrow=False,
                            xanchor="center", yanchor="middle",
                            font=dict(family=FONT, size=21, color="black")))
    annotations.append(dict(text="<b>ETo (mm d<sup>-1</sup>) - EMC</b>", x=px(YTITLE_POS[i][0]),
                            y=py(YTITLE_POS[i][1]), xref="paper", yref="paper", showarrow=False,
                            xanchor="center", yanchor="middle", textangle=-90,
                            font=dict(family=FONT, size=21, color="black")))
    annotations.append(dict(text=f"y = {fmt(a)}x + {fmt(b)}", x=px(EQ_POS[i][0]), y=py(EQ_POS[i][1]),
                            xref="paper", yref="paper", showarrow=False, xanchor="center",
                            yanchor="middle", font=dict(family=FONT, size=20, color="black")))
    annotations.append(dict(text=f"R<sup>2</sup> = {fmt(R2[i])}", x=px(R2_POS[i][0]),
                            y=py(R2_POS[i][1]), xref="paper", yref="paper", showarrow=False,
                            xanchor="center", yanchor="middle",
                            font=dict(family=FONT, size=20, color="black")))

fig.update_layout(
    width=W, height=H, margin=dict(l=0, r=0, t=0, b=0),
    paper_bgcolor="white", plot_bgcolor="white",
    annotations=annotations, shapes=shapes,
    font=dict(family=FONT, color="black"),
)

fig.write_html("out.html", config={"displayModeBar": False},
               post_script="document.body.style.margin='0';document.body.style.padding='0';"
                           "document.body.style.overflow='hidden';")
